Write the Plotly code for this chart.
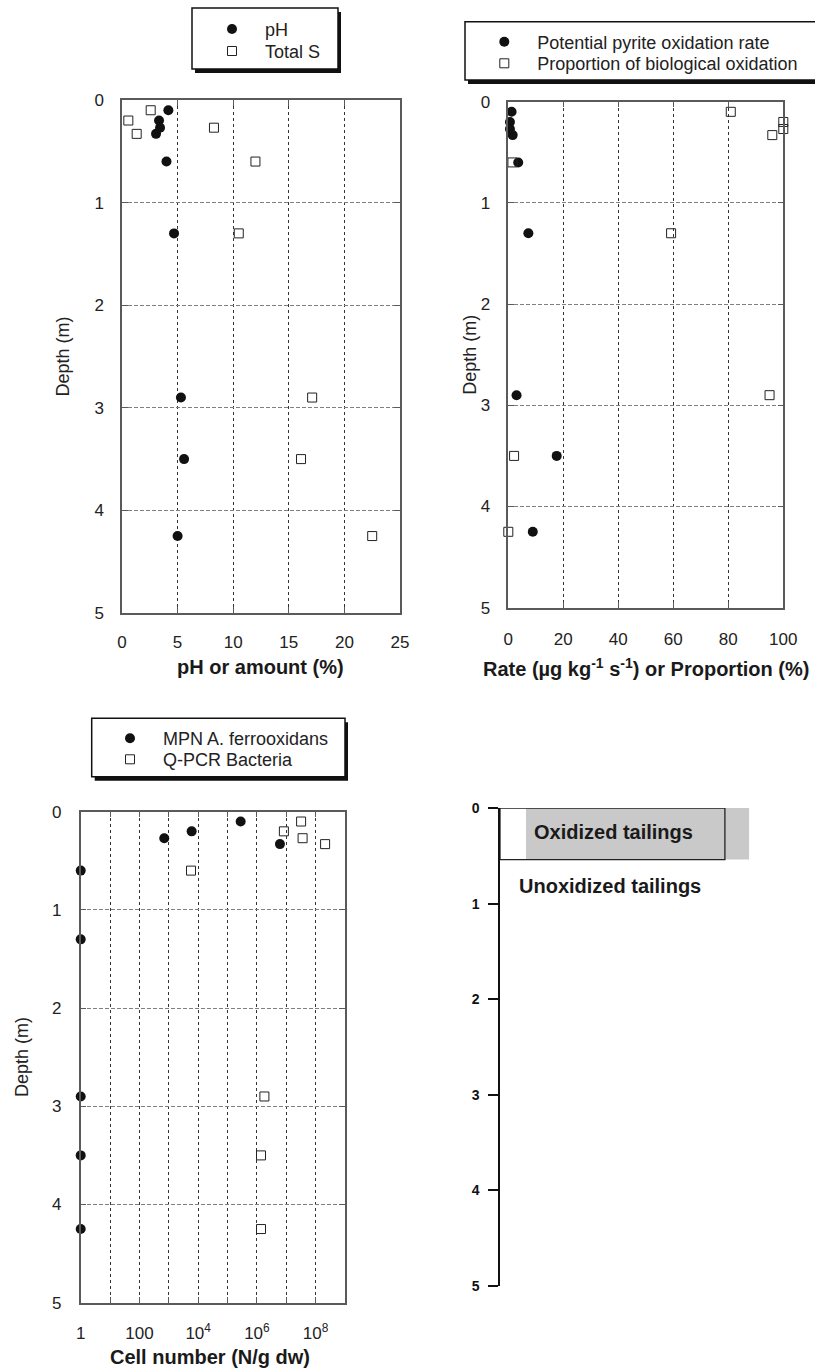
import plotly.graph_objects as go

# Figure size in pixels
W, H = 815, 1369
FONT = "Liberation Sans, Arial, Helvetica, sans-serif"

# ---- data -------------------------------------------------------------
depth = [0.1, 0.2, 0.27, 0.33, 0.6, 1.3, 2.9, 3.5, 4.25]

ph = [4.17, 3.33, 3.42, 3.06, 4.0, 4.68, 5.3, 5.58, 5.0]
total_s = [2.58, 0.57, 8.27, 1.32, 12.0, 10.5, 17.1, 16.1, 22.5]

pyrite_rate = [1.2, 0.6, 0.6, 1.6, 3.6, 7.3, 3.0, 17.6, 8.9]
bio_proportion = [80.9, 100, 100, 96, 1.5, 59.2, 95, 2.1, 0]

mpn_ferrooxidans = [2.8e5, 6.0e3, 7.0e2, 6.1e6, 1, 1, 1, 1, 1]
qpcr_bacteria = [3.2e7, 8.3e6, 3.6e7, 2.1e8, 5.7e3, None, 1.8e6, 1.38e6, 1.38e6]

depth_ticks = [0, 1, 2, 3, 4, 5]
cell_tickvals = [10 ** k for k in range(10)]
cell_ticktext = ["1", " ", "100", " ", "10<sup>4</sup>", " ", "10<sup>6</sup>", " ",
                 "10<sup>8</sup>", " "]

oxidized_depth = 0.54
zone_labels = ["Oxidized tailings", "Unoxidized tailings"]


# ---- helpers: pixel -> paper fraction ----------------------------------
def fx(x):
    return x / W


def fy(y):
    return 1 - y / H


fig = go.Figure()

frame = dict(showline=True, linecolor="#5a5a5a", linewidth=1.5, mirror="ticks",
             ticks="inside", ticklen=6, tickcolor="#5a5a5a", tickwidth=1,
             zeroline=False, showgrid=True,
             tickfont=dict(family=FONT, size=17, color="#222"))
xgrid = dict(gridcolor="#333333", gridwidth=1, griddash="3px,3px")
ygrid = dict(gridcolor="#808080", gridwidth=1.2, griddash="4px,2px")

# panel domains (pixels): left, right, top, bottom
panels = {
    1: (122, 400, 100, 613),
    2: (508.3, 783.3, 101.7, 607.7),
    3: (80.7, 345, 811.7, 1302.7),
    4: (500, 760, 808, 1286),
}


def dom(k):
    l, r, t, b = panels[k]
    return [fx(l), fx(r)], [fy(b), fy(t)]


d1x, d1y = dom(1)
d2x, d2y = dom(2)
d3x, d3y = dom(3)
d4x, d4y = dom(4)

layout = dict(
    width=W, height=H, autosize=False,
    margin=dict(l=0, r=0, t=0, b=0),
    paper_bgcolor="white", plot_bgcolor="white",
    template="none",
    font=dict(family=FONT, color="#222"),
    xaxis=dict(domain=d1x, anchor="y", range=[0, 25], dtick=5,
               ticklabelstandoff=13, **frame, **xgrid),
    yaxis=dict(domain=d1y, anchor="x", range=[5, 0], tickvals=depth_ticks,
               ticklabelstandoff=13, **frame, **ygrid),
    xaxis2=dict(domain=d2x, anchor="y2", range=[0, 100], dtick=20,
                ticklabelstandoff=15, **frame, **xgrid),
    yaxis2=dict(domain=d2y, anchor="x2", range=[5, 0], tickvals=depth_ticks,
                ticklabelstandoff=13, **frame, **ygrid),
    xaxis3=dict(domain=d3x, anchor="y3", type="log", range=[0, 9],
                tickvals=cell_tickvals, ticktext=cell_ticktext,
                ticklabelstandoff=14, **frame, **xgrid),
    yaxis3=dict(domain=d3y, anchor="x3", range=[5, 0], tickvals=depth_ticks,
                ticklabelstandoff=14, **frame, **ygrid),
    xaxis4=dict(domain=d4x, anchor="y4", range=[0, 1], visible=False),
    yaxis4=dict(domain=d4y, anchor="x4", range=[5, 0], tickvals=depth_ticks,
                showline=True, linecolor="#111", linewidth=1.5,
                ticks="outside", ticklen=10, tickwidth=1.5, tickcolor="#111",
                showgrid=False, zeroline=False, ticklabelstandoff=6,
                tickfont=dict(family=FONT, size=14, color="#111", weight="bold")),
)
fig.update_layout(**layout)

circle = dict(symbol="circle", size=10, color="#111111", line=dict(width=0))
square = dict(symbol="square-open", size=9, color="#222222", line=dict(width=1, color="#222222"))

series = [
    ("pH", ph, "x", "y", circle, "legend", (232, 29)),
    ("Total S", total_s, "x", "y", square, "legend2", (232, 51)),
    ("Potential pyrite oxidation rate", pyrite_rate, "x2", "y2", circle, "legend3", (504.3, 41.7)),
    ("Proportion of biological oxidation", bio_proportion, "x2", "y2", square, "legend4", (504.3, 63.3)),
    ("MPN A. ferrooxidans", mpn_ferrooxidans, "x3", "y3", circle, "legend5", (130, 738.3)),
    ("Q-PCR Bacteria", qpcr_bacteria, "x3", "y3", square, "legend6", (130, 759.3)),
]

ITEMW = 56
legend_layout = {}
for name, vals, xa, ya, mk, lg, (sx, sy) in series:
    fig.add_trace(go.Scatter(x=vals, y=depth, mode="markers", name=name,
                             xaxis=xa, yaxis=ya, marker=mk, cliponaxis=False,
                             legend=lg, showlegend=True))
    legend_layout[lg] = dict(
        x=fx(sx - (5 + ITEMW / 2)), y=fy(sy - 18.2), xanchor="left", yanchor="top",
        bgcolor="rgba(0,0,0,0)", borderwidth=0, itemwidth=ITEMW,
        font=dict(family=FONT, size=18, color="#222"),
    )
fig.update_layout(**legend_layout)

shapes = []
# legend frames with drop shadow
for (l, t, r, b) in [(192, 8, 338, 69), (465, 21.7, 832, 80), (91.7, 718.3, 345, 776.7)]:
    shapes.append(dict(type="rect", xref="paper", yref="paper",
                       x0=fx(l + 3), x1=fx(r + 3), y0=fy(b + 4), y1=fy(t + 4),
                       fillcolor="#111", line=dict(width=0), layer="below"))
    shapes.append(dict(type="rect", xref="paper", yref="paper",
                       x0=fx(l), x1=fx(r), y0=fy(b), y1=fy(t),
                       fillcolor="white", line=dict(color="#111", width=1.5), layer="below"))

# oxidized layer in the profile sketch
shapes.append(dict(type="rect", xref="x4", yref="y4", x0=0.1, x1=0.958,
                   y0=0, y1=oxidized_depth, fillcolor="#c9c9c9",
                   line=dict(width=0), layer="below"))
shapes.append(dict(type="rect", xref="x4", yref="y4", x0=0, x1=0.865,
                   y0=0, y1=oxidized_depth, fillcolor="rgba(0,0,0,0)",
                   line=dict(color="#222", width=1.3)))
fig.update_layout(shapes=shapes)

ann = []
title_font = dict(family=FONT, size=20, color="#1a1a1a")
depth_font = dict(family=FONT, size=18, color="#222")
centered = dict(xanchor="center", yanchor="middle", showarrow=False)
ann.append(dict(text="<b>pH or amount (%)</b>", xref="paper", yref="paper",
                x=fx(260), y=fy(667), font=title_font, **centered))
ann.append(dict(text="<b>Rate (µg kg<sup>-1</sup> s<sup>-1</sup>) or Proportion (%)</b>",
                xref="paper", yref="paper", x=fx(646), y=fy(667),
                font=title_font, **centered))
ann.append(dict(text="<b>Cell number (N/g dw)</b>", xref="paper", yref="paper",
                x=fx(210), y=fy(1357), font=title_font, **centered))
for (x, y) in [(62, 356.5), (470, 354.7), (22, 1057)]:
    ann.append(dict(text="Depth (m)", xref="paper", yref="paper", x=fx(x), y=fy(y),
                    textangle=-90, font=depth_font, **centered))
ann.append(dict(text="<b>" + zone_labels[0] + "</b>", xref="x4", yref="y4",
                x=0.435, y=0.25, font=dict(family=FONT, size=20, color="#1a1a1a"),
                **centered))
ann.append(dict(text="<b>" + zone_labels[1] + "</b>", xref="x4", yref="y4",
                x=0.423, y=0.82, font=dict(family=FONT, size=20, color="#1a1a1a"),
                **centered))
fig.update_layout(annotations=ann)

fig.write_html("out.html")
